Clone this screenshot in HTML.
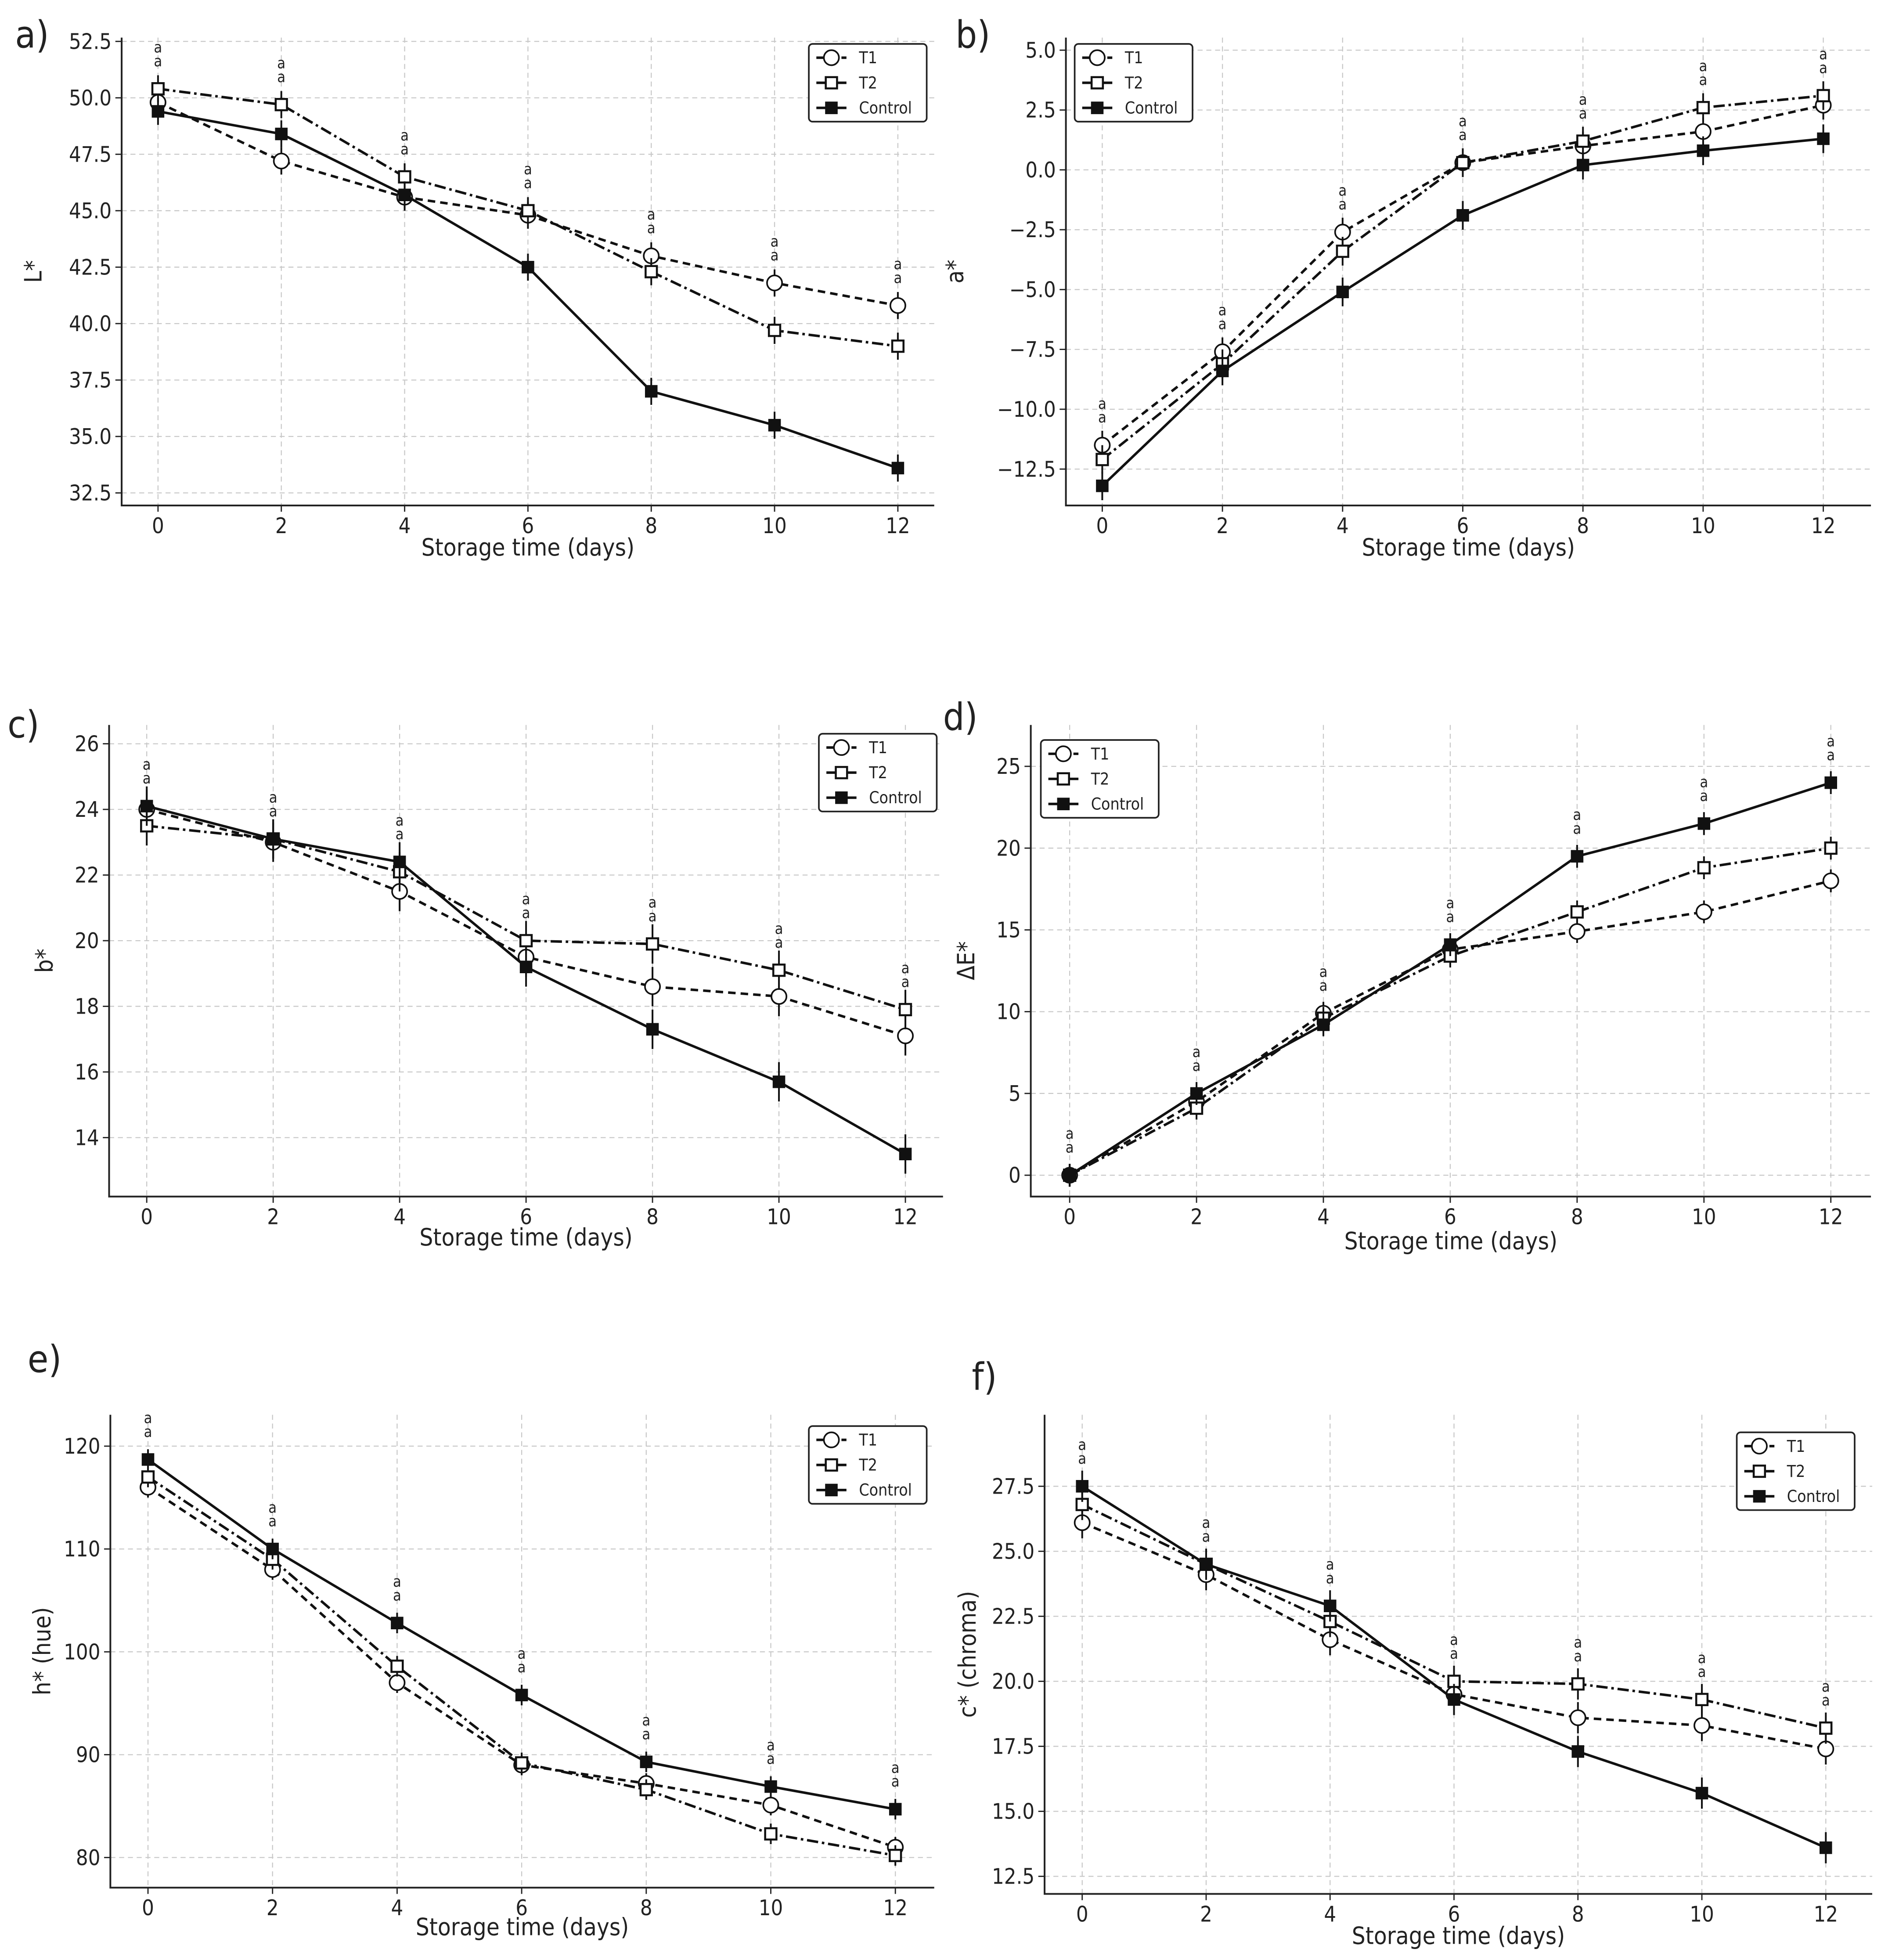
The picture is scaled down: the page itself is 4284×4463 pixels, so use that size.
<!DOCTYPE html>
<html><head><meta charset="utf-8">
<style>
html,body{margin:0;padding:0;background:#fff;}
svg{display:block;}
text{font-family:"DejaVu Sans Condensed","DejaVu Sans","Liberation Sans",sans-serif;font-stretch:condensed;fill:#222;}
</style></head>
<body>
<svg id="fig" width="4284" height="4463" viewBox="0 0 1500 1562.7" xmlns="http://www.w3.org/2000/svg"></svg>
<script>
const days = [0, 2, 4, 6, 8, 10, 12];
const xTicks = [0, 2, 4, 6, 8, 10, 12];
// Panel a: L*
const aT1 = [49.8, 47.2, 45.6, 44.8, 43.0, 41.8, 40.8];
const aT2 = [50.4, 49.7, 46.5, 45.0, 42.3, 39.7, 39.0];
const aCtl = [49.4, 48.4, 45.7, 42.5, 37.0, 35.5, 33.6];
const aTicks = [32.5, 35.0, 37.5, 40.0, 42.5, 45.0, 47.5, 50.0, 52.5];
// Panel b: a*
const bT1 = [-11.5, -7.6, -2.6, 0.3, 1.0, 1.6, 2.7];
const bT2 = [-12.1, -8.1, -3.4, 0.3, 1.2, 2.6, 3.1];
const bCtl = [-13.2, -8.4, -5.1, -1.9, 0.2, 0.8, 1.3];
const bTicks = [-12.5, -10.0, -7.5, -5.0, -2.5, 0.0, 2.5, 5.0];
// Panel c: b*
const cT1 = [24.0, 23.0, 21.5, 19.5, 18.6, 18.3, 17.1];
const cT2 = [23.5, 23.1, 22.1, 20.0, 19.9, 19.1, 17.9];
const cCtl = [24.1, 23.1, 22.4, 19.2, 17.3, 15.7, 13.5];
const cTicks = [14, 16, 18, 20, 22, 24, 26];
// Panel d: dE*
const dT1 = [0, 4.5, 9.9, 13.8, 14.9, 16.1, 18.0];
const dT2 = [0, 4.1, 9.6, 13.4, 16.1, 18.8, 20.0];
const dCtl = [0, 5.0, 9.2, 14.1, 19.5, 21.5, 24.0];
const dTicks = [0, 5, 10, 15, 20, 25];
// Panel e: hue
const eT1 = [116, 108, 97, 89, 87.2, 85.1, 81];
const eT2 = [117, 109, 98.6, 89.2, 86.6, 82.3, 80.2];
const eCtl = [118.7, 110, 102.8, 95.8, 89.3, 86.9, 84.7];
const eTicks = [80, 90, 100, 110, 120];
// Panel f: chroma
const fT1 = [26.1, 24.1, 21.6, 19.5, 18.6, 18.3, 17.4];
const fT2 = [26.8, 24.5, 22.3, 20.0, 19.9, 19.3, 18.2];
const fCtl = [27.5, 24.5, 22.9, 19.3, 17.3, 15.7, 13.6];
const fTicks = [12.5, 15.0, 17.5, 20.0, 22.5, 25.0, 27.5];

const NS = "http://www.w3.org/2000/svg";
const svg = document.getElementById('fig');
function mk(tag, attrs, parent) {
  const e = document.createElementNS(NS, tag);
  for (const k in attrs) e.setAttribute(k, attrs[k]);
  (parent || svg).appendChild(e);
  return e;
}

const panels = [
  {id:'a', label:'a)', lx:12, ly:38, box:[97,30,745,403], x0:126, x12:716, yv:[32.5,52.5], yp:[393,33], ticks:aTicks, dec:1, ylab:'L*', ylx:33,
   s:[aT1,aT2,aCtl], err:0.6, leg:[645,35], xlY:443},
  {id:'b', label:'b)', lx:762, ly:38, box:[850,30,1492,403], x0:879, x12:1454, yv:[-12.5,5], yp:[374,40], ticks:bTicks, dec:1, ylab:'a*', ylx:768,
   s:[bT1,bT2,bCtl], err:0.6, leg:[857,35], xlY:443},
  {id:'c', label:'c)', lx:6, ly:588, box:[87,578,752,954], x0:117, x12:722, yv:[14,26], yp:[907,593], ticks:cTicks, dec:0, ylab:'b*', ylx:42,
   s:[cT1,cT2,cCtl], err:0.6, leg:[653,585], xlY:993},
  {id:'d', label:'d)', lx:752, ly:582, box:[822,578,1492,954], x0:853, x12:1460, yv:[0,25], yp:[937,611], ticks:dTicks, dec:0, ylab:'ΔE*', ylx:777,
   s:[dT1,dT2,dCtl], err:0.7, leg:[830,590], xlY:996},
  {id:'e', label:'e)', lx:22, ly:1094, box:[88,1128,745,1505], x0:118, x12:714, yv:[80,120], yp:[1481,1153], ticks:eTicks, dec:0, ylab:'h* (hue)', ylx:40,
   s:[eT1,eT2,eCtl], err:1.0, leg:[645,1137], xlY:1543},
  {id:'f', label:'f)', lx:775, ly:1108, box:[833,1128,1493,1510], x0:863, x12:1456, yv:[12.5,27.5], yp:[1496,1185], ticks:fTicks, dec:1, ylab:'c* (chroma)', ylx:778,
   s:[fT1,fT2,fCtl], err:0.6, leg:[1385,1142], xlY:1550}
];

const styles = [
  {name:'T1', dash:'6,4', marker:'circle'},
  {name:'T2', dash:'9,3,2,3', marker:'opensq'},
  {name:'Control', dash:'', marker:'fillsq'}
];

function marker(g, type, x, y, name) {
  let m;
  if (type === 'circle') m = mk('circle', {cx:x, cy:y, r:6, fill:'#fff', stroke:'#111', 'stroke-width':1.3}, g);
  else if (type === 'opensq') m = mk('rect', {x:x-4.5, y:y-4.5, width:9, height:9, fill:'#fff', stroke:'#111', 'stroke-width':1.6}, g);
  else m = mk('rect', {x:x-5, y:y-5, width:10, height:10, fill:'#111'}, g);
  
  
  return m;
}

panels.forEach(p => {
  const g = mk('g', {});
  
  
  const [L, T, R, B] = p.box;
  const xs = d => p.x0 + (p.x12 - p.x0) * d / 12;
  const ys = v => p.yp[0] + (p.yp[1] - p.yp[0]) * (v - p.yv[0]) / (p.yv[1] - p.yv[0]);
  xTicks.forEach(t => {
    const l = mk('line', {x1:xs(t), x2:xs(t), y1:T, y2:B, stroke:'#c8c8c8', 'stroke-width':0.8, 'stroke-dasharray':'4,3'}, g);
    
    
    mk('line', {x1:xs(t), x2:xs(t), y1:B, y2:B+5, stroke:'#222', 'stroke-width':1}, g);
    const tx = mk('text', {x:xs(t), y:B+22, 'font-size':17, 'text-anchor':'middle'}, g);
    tx.textContent = t;
    
    
  });
  p.ticks.forEach(t => {
    const l = mk('line', {x1:L, x2:R, y1:ys(t), y2:ys(t), stroke:'#c8c8c8', 'stroke-width':0.8, 'stroke-dasharray':'4,3'}, g);
    
    
    mk('line', {x1:L-5, x2:L, y1:ys(t), y2:ys(t), stroke:'#222', 'stroke-width':1}, g);
    const tx = mk('text', {x:L-8, y:ys(t)+6, 'font-size':17, 'text-anchor':'end'}, g);
    tx.textContent = (t < 0 ? '−' : '') + Math.abs(t).toFixed(p.dec);
    
    
  });
  const ax = mk('polyline', {points:`${L},${T} ${L},${B} ${R},${B}`, fill:'none', stroke:'#222', 'stroke-width':1.4}, g);
  
  
  p.s.forEach((vals, si) => {
    const st = styles[si];
    const pts = vals.map((v, i) => xs(days[i]) + ',' + ys(v)).join(' ');
    const pl = mk('polyline', {points:pts, fill:'none', stroke:'#111', 'stroke-width':2, 'stroke-dasharray':st.dash}, g);
    
    
    vals.forEach((v, i) => {
      const eb = mk('line', {x1:xs(days[i]), x2:xs(days[i]), y1:ys(v - p.err), y2:ys(v + p.err), stroke:'#111', 'stroke-width':1.4}, g);
      
      
      marker(g, st.marker, xs(days[i]), ys(v), 'point-' + st.name.toLowerCase());
    });
  });
  days.forEach((d, i) => {
    const vs = p.s.map(s => s[i]);
    const top = Math.min(...vs.map(ys));
    for (let k = 0; k < 2; k++) {
      const tx = mk('text', {x:xs(d), y:top - 18 - k*11, 'font-size':12, 'text-anchor':'middle', fill:'#444'}, g);
      tx.textContent = 'a';
      
      
    }
  });
  const pl = mk('text', {x:p.lx, y:p.ly, 'font-size':30}, g);
  pl.textContent = p.label;
  
  
  const xl = mk('text', {x:(L+R)/2, y:p.xlY, 'font-size':19, 'text-anchor':'middle'}, g);
  xl.textContent = 'Storage time (days)';
  
  
  const cy = (T+B)/2;
  const yl = mk('text', {x:p.ylx, y:cy, 'font-size':19, 'text-anchor':'middle', transform:'rotate(-90 ' + p.ylx + ' ' + cy + ')'}, g);
  yl.textContent = p.ylab;
  
  
  const [lgx, lgy] = p.leg;
  const lg = mk('g', {}, g);
  
  
  mk('rect', {x:lgx, y:lgy, width:94, height:62, fill:'#fff', stroke:'#222', 'stroke-width':1.3, rx:3}, lg);
  styles.forEach((st, i) => {
    const yy = lgy + 11 + i*20;
    mk('line', {x1:lgx+6, x2:lgx+30, y1:yy, y2:yy, stroke:'#111', 'stroke-width':2, 'stroke-dasharray':st.dash}, lg);
    marker(lg, st.marker, lgx+18, yy, 'legend-marker-' + st.name.toLowerCase());
    const tx = mk('text', {x:lgx+40, y:yy+4.5, 'font-size':13}, lg);
    tx.textContent = st.name;
    
    
  });
});
</script>
</body></html>
